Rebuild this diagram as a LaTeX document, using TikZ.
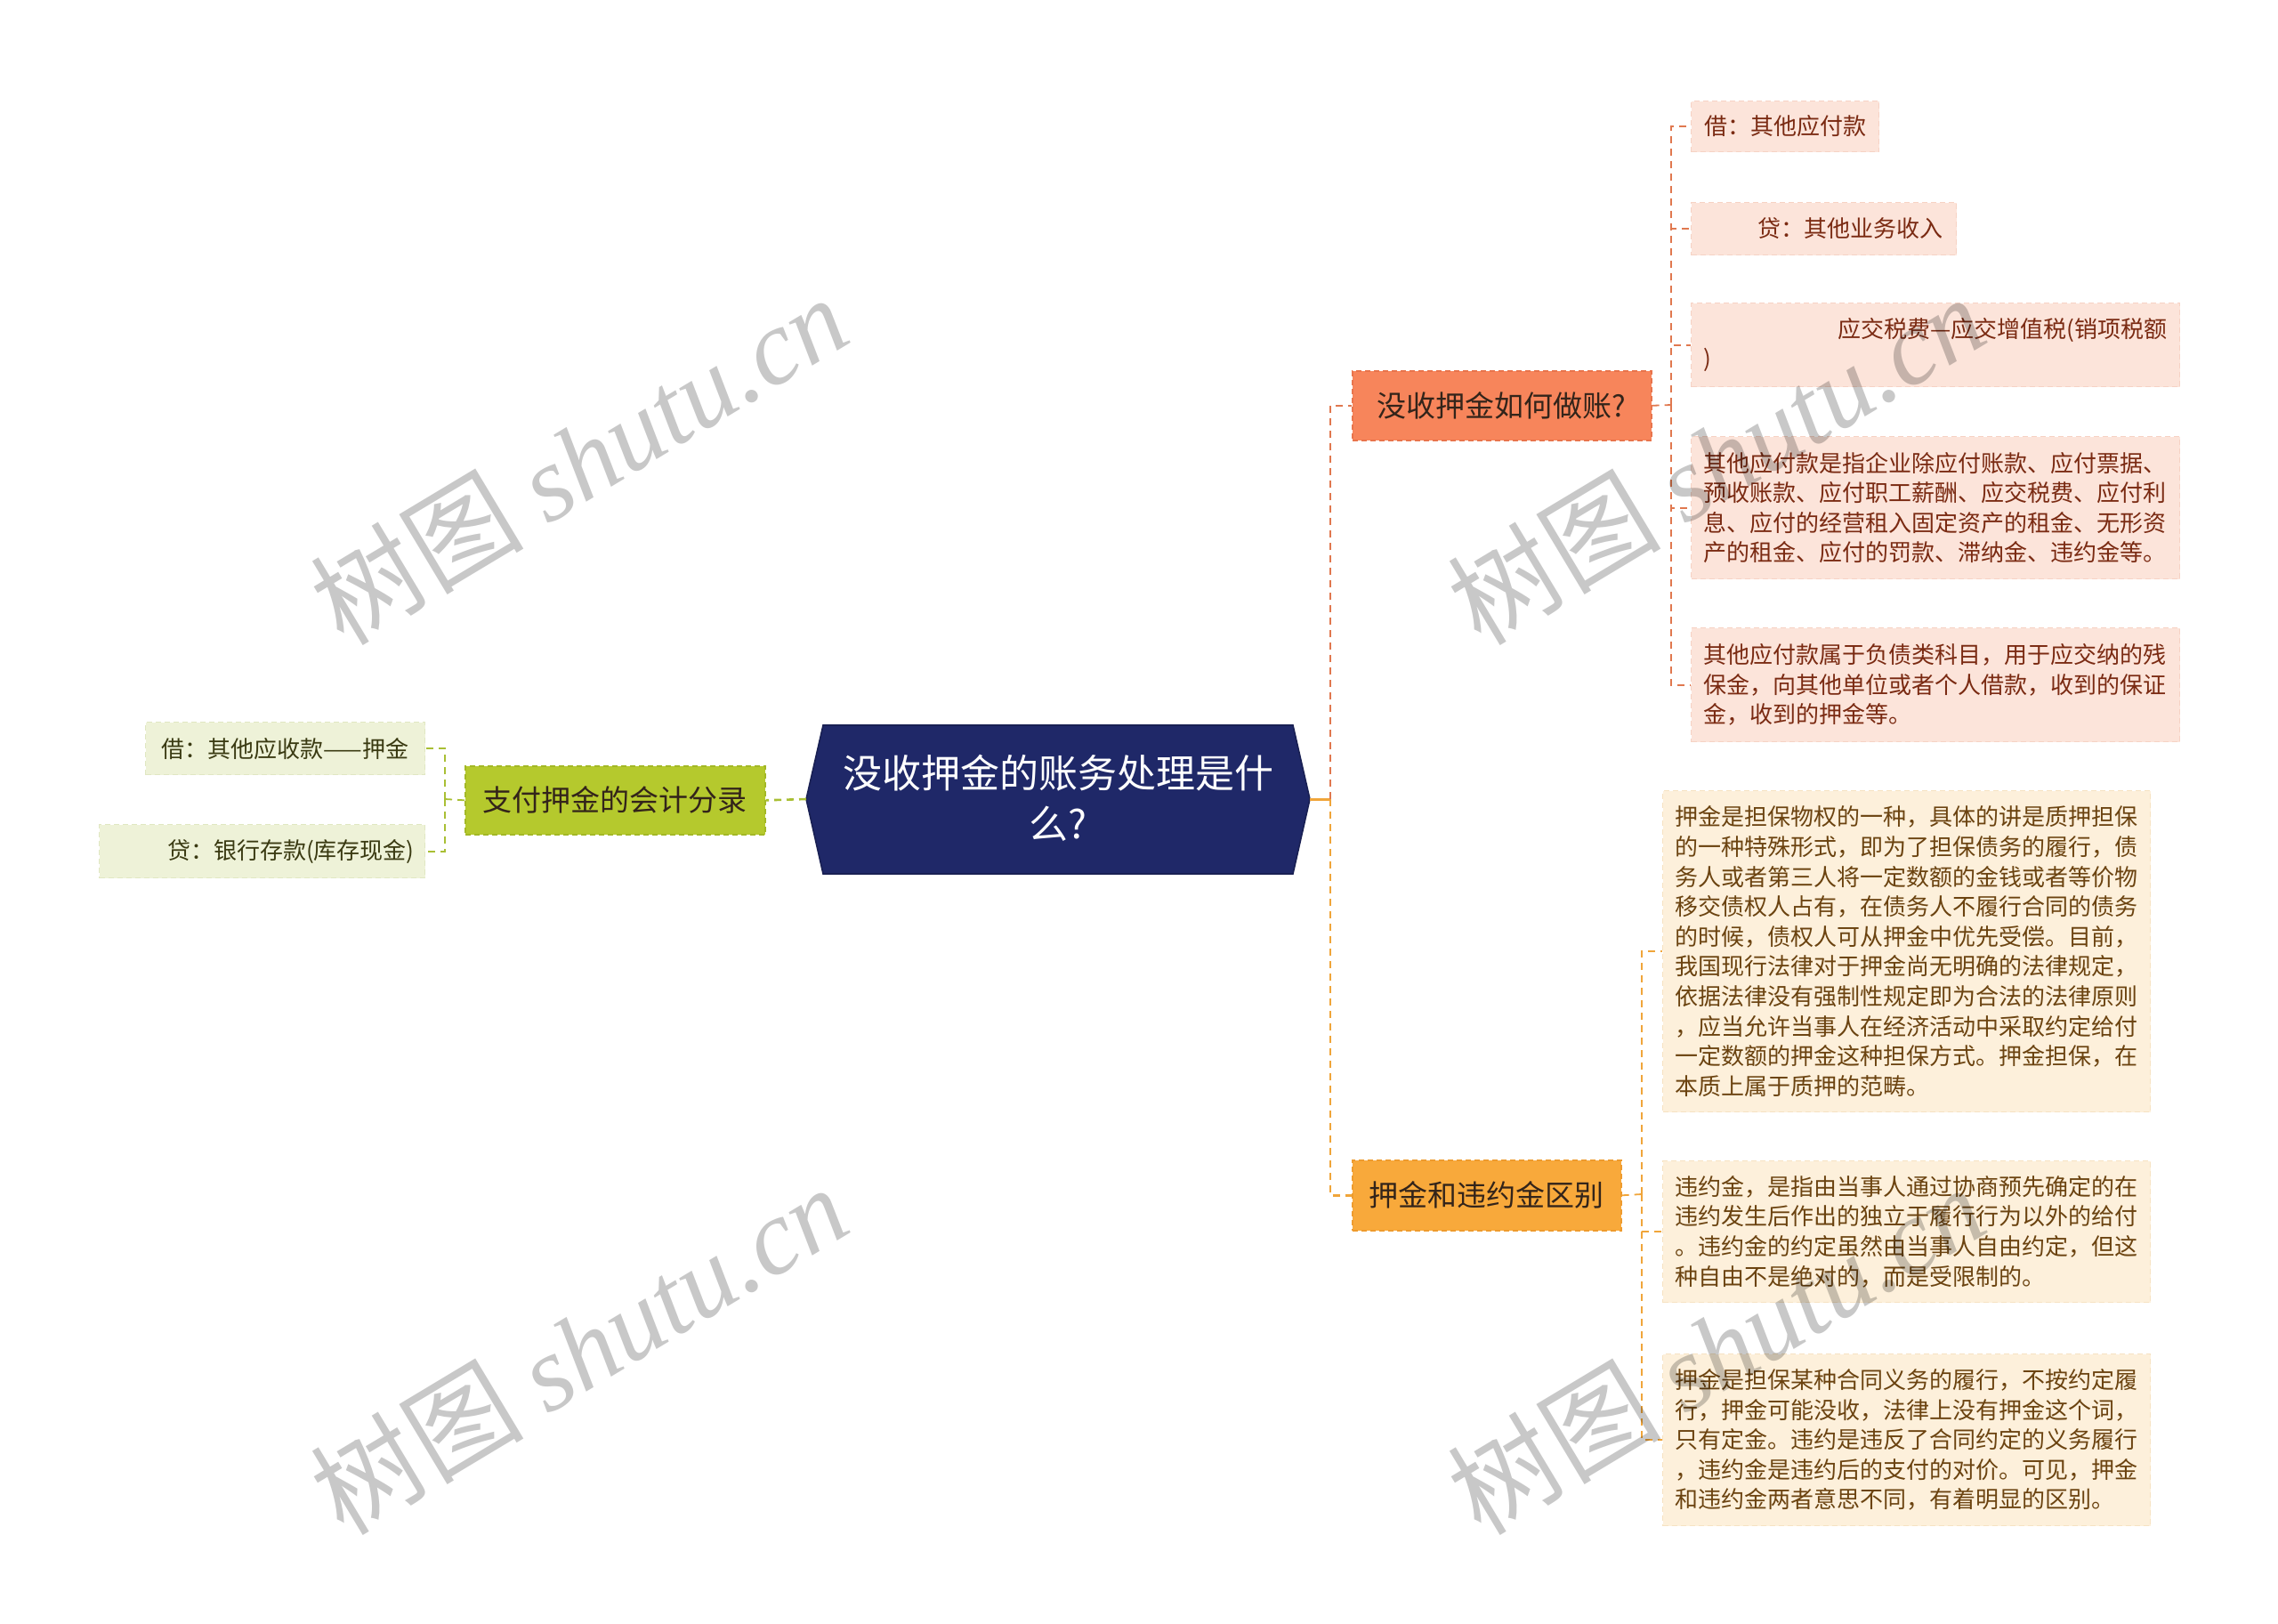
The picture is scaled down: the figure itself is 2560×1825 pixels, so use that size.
\documentclass[tikz,border=0pt]{standalone}
\usepackage{fontspec}
\setmainfont{Noto Sans CJK SC}
\newfontfamily\wmlatin{Liberation Serif}
\usetikzlibrary{calc}
\definecolor{navyF}{HTML}{1F2868}
\definecolor{coralF}{HTML}{F7855B}
\definecolor{coralD}{HTML}{E8744C}
\definecolor{orangeF}{HTML}{F8A93B}
\definecolor{orangeD}{HTML}{EE9B2E}
\definecolor{greenF}{HTML}{B5C92D}
\definecolor{greenD}{HTML}{A3B826}
\definecolor{pinkF}{HTML}{FCE4DA}
\definecolor{pinkD}{HTML}{F6D2C4}
\definecolor{creamF}{HTML}{FDF0DB}
\definecolor{creamD}{HTML}{F6E2C2}
\definecolor{lgreenF}{HTML}{EEF2D8}
\definecolor{lgreenD}{HTML}{E0E7C2}
\definecolor{pinkT}{HTML}{7A2A12}
\definecolor{creamT}{HTML}{6B4310}
\definecolor{lgreenT}{HTML}{3A3A12}
\definecolor{darkT}{HTML}{33241A}
\definecolor{redC}{HTML}{E0784F}
\definecolor{orangeC}{HTML}{F0A53A}
\definecolor{greenC}{HTML}{A9BF34}
\definecolor{wmC}{HTML}{C8C8C8}
\tikzset{
  leafbox/.style={anchor=north west, inner ysep=0pt, line width=0.6pt,
    dash pattern=on 3pt off 2pt, font=\fontsize{13pt}{16.8pt}\selectfont},
  leafT/.style={leafbox, fill=pinkF, draw=pinkD, text=pinkT},
  leafB/.style={leafbox, fill=creamF, draw=creamD, text=creamT},
  leafL/.style={leafbox, fill=lgreenF, draw=lgreenD, text=lgreenT},
  branchbox/.style={anchor=north west, inner sep=0pt, line width=0.8pt,
    dash pattern=on 3pt off 2pt, text=darkT, font=\fontsize{16.5pt}{20pt}\selectfont},
  centraltext/.style={text=white, align=center, inner sep=0pt,
    font=\fontsize{22pt}{28.5pt}\selectfont},
  conR/.style={draw=redC, line width=1.3pt, dash pattern=on 4pt off 3pt},
  conO/.style={draw=orangeC, line width=1.3pt, dash pattern=on 4pt off 3pt},
  conG/.style={draw=greenC, line width=1.3pt, dash pattern=on 4pt off 3pt},
  conRs/.style={conR, line width=0.9pt},
  conOs/.style={conO, line width=0.9pt},
  conGs/.style={conG, line width=0.9pt},
  wm/.style={text=wmC, rotate=31, inner sep=0pt,
    font=\fontsize{60pt}{60pt}\selectfont}
}
\begin{document}
\begin{tikzpicture}[x=0.5pt,y=-0.5pt]
\useasboundingbox (0,0) rectangle (2560,1825);

% central hexagon
\coordinate (cL) at (906,898);
\coordinate (cR) at (1472,898);
\coordinate (cTL) at (925,815);
\coordinate (cTR) at (1453,815);
\coordinate (cBL) at (925,982);
\coordinate (cBR) at (1453,982);
\fill[navyF] (cL) -- (cTL) -- (cTR) -- (cR) -- (cBR) -- (cBL) -- cycle;
\draw[navyF!80!black, line width=0.8pt] (cL) -- (cTL) -- (cTR) -- (cR) -- (cBR) -- (cBL) -- cycle;
\node[centraltext] (c) at (1189,897) {没收押金的账务处理是什\\么?};

% left branch
\node[branchbox, fill=greenF, draw=greenD, minimum width=168.5pt, minimum height=38.5pt] (g) at (522,860) {支付押金的会计分录};
\node[leafL, inner xsep=0pt, minimum width=157pt, minimum height=29.5pt] (l1) at (163,811) {借：其他应收款——押金};
\node[leafL, inner xsep=6pt, text width=171pt, align=right, minimum height=30pt] (l2) at (111,926) {贷：银行存款(库存现金)};

% right branches
\node[branchbox, fill=coralF, draw=coralD, minimum width=168pt, minimum height=39pt] (b1) at (1519,416) {没收押金如何做账?};
\node[branchbox, fill=orangeF, draw=orangeD, minimum width=151pt, minimum height=39.5pt] (b2) at (1519,1303) {押金和违约金区别};

% top leaves
\node[leafT, inner xsep=0pt, minimum width=105.5pt, minimum height=28.5pt] (t1) at (1900,113) {借：其他应付款};
\node[leafT, inner xsep=7.5pt, text width=134pt, align=right, minimum height=29.5pt] (t2) at (1900,227) {贷：其他业务收入};
\node[leafT, inner xsep=7pt, text width=260.5pt, align=left, minimum height=47pt] (t3) at (1900,340) {\hspace*{\fill}应交税费—应交增值税(销项税额\\)};
\node[leafT, inner xsep=7pt, text width=260.5pt, align=left, minimum height=80pt] (t4) at (1900,490) {其他应付款是指企业除应付账款、应付票据、\\预收账款、应付职工薪酬、应交税费、应付利\\息、应付的经营租入固定资产的租金、无形资\\产的租金、应付的罚款、滞纳金、违约金等。};
\node[leafT, inner xsep=7pt, text width=260.5pt, align=left, minimum height=64pt] (t5) at (1900,705) {其他应付款属于负债类科目，用于应交纳的残\\保金，向其他单位或者个人借款，收到的保证\\金，收到的押金等。};

% bottom leaves
\node[leafB, inner xsep=7pt, text width=260pt, align=left, minimum height=180.5pt] (d1) at (1868,888) {押金是担保物权的一种，具体的讲是质押担保\\的一种特殊形式，即为了担保债务的履行，债\\务人或者第三人将一定数额的金钱或者等价物\\移交债权人占有，在债务人不履行合同的债务\\的时候，债权人可从押金中优先受偿。目前，\\我国现行法律对于押金尚无明确的法律规定，\\依据法律没有强制性规定即为合法的法律原则\\，应当允许当事人在经济活动中采取约定给付\\一定数额的押金这种担保方式。押金担保，在\\本质上属于质押的范畴。};
\node[leafB, inner xsep=7pt, text width=260pt, align=left, minimum height=79.5pt] (d2) at (1868,1304) {违约金，是指由当事人通过协商预先确定的在\\违约发生后作出的独立于履行行为以外的给付\\。违约金的约定虽然由当事人自由约定，但这\\种自由不是绝对的，而是受限制的。};
\node[leafB, inner xsep=7pt, text width=260pt, align=left, minimum height=96.5pt] (d3) at (1868,1521) {押金是担保某种合同义务的履行，不按约定履\\行，押金可能没收，法律上没有押金这个词，\\只有定金。违约是违反了合同约定的义务履行\\，违约金是违约后的支付的对价。可见，押金\\和违约金两者意思不同，有着明显的区别。};

% connectors: left
\coordinate (gj) at (500,898);
\draw[conG] (cL) -- (g.east);
\draw[conGs] (g.west) -- (gj);
\draw[conGs] (gj) |- (l1.east);
\draw[conGs] (gj) |- (l2.east);

% connectors: right trunk
\coordinate (rt) at (1495,898);
\draw[draw=orangeC, line width=1.5pt] (cR) -- (rt);
\draw[conR] (rt) |- (b1.west);
\draw[conO] (rt) |- (b2.west);

% top branch leaves
\coordinate (b1j) at (1878,455);
\draw[conRs] (b1.east) -- (b1j);
\foreach \n in {t1,t2,t3,t4,t5} { \draw[conRs] (b1j) |- (\n.west); }

% bottom branch leaves
\coordinate (b2j) at (1845,1342);
\draw[conOs] (b2.east) -- (b2j);
\foreach \n in {d1,d2,d3} { \draw[conOs] (b2j) |- (\n.west); }

% watermarks
\begin{scope}[blend mode=multiply]
\node[wm] (w1) at (650,516) {树图 {\wmlatin\itshape shutu.cn}};
\node[wm] (w2) at (1928,516) {树图 {\wmlatin\itshape shutu.cn}};
\node[wm] (w3) at (650,1516) {树图 {\wmlatin\itshape shutu.cn}};
\node[wm] (w4) at (1928,1516) {树图 {\wmlatin\itshape shutu.cn}};
\end{scope}
\end{tikzpicture}
\end{document}
